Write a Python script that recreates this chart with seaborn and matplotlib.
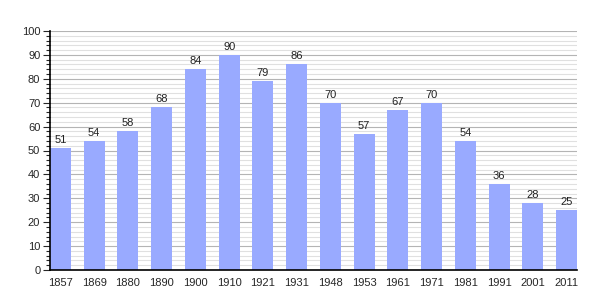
import matplotlib
matplotlib.use("Agg")
import matplotlib.pyplot as plt
import seaborn as sns
import pandas as pd
from matplotlib.ticker import MultipleLocator

years = ["1857", "1869", "1880", "1890", "1900", "1910", "1921", "1931",
         "1948", "1953", "1961", "1971", "1981", "1991", "2001", "2011"]
population = [51, 54, 58, 68, 84, 90, 79, 86, 70, 57, 67, 70, 54, 36, 28, 25]

sns.set_style("white")
plt.rcParams['font.family'] = ['Liberation Sans', 'DejaVu Sans']

df = pd.DataFrame({"year": years, "pop": population})

fig = plt.figure(figsize=(6.05, 3.0), dpi=100)
ax = fig.add_axes([50/605, 30/300, 527/605, 239/300])

bw = 0.62
sns.barplot(data=df, x="year", y="pop", color="#99aaff", saturation=1,
            width=bw, ax=ax, linewidth=0, edgecolor="none", zorder=2)

for i, v in enumerate(population):
    ax.text(i, v + 1.3, str(v), ha="center", va="bottom", fontsize=8, color="#222222")

ax.set_xlim(-bw/2, len(years) - 1 + bw/2)
ax.set_ylim(0, 100)
ax.yaxis.set_major_locator(MultipleLocator(10))
ax.yaxis.set_minor_locator(MultipleLocator(2))
ax.grid(which="major", axis="y", color="#b4b4b4", linewidth=0.8, zorder=0)
ax.grid(which="minor", axis="y", color="#e0e0e0", linewidth=0.8, zorder=0)
ax.set_axisbelow(True)

for s in ["top", "right"]:
    ax.spines[s].set_visible(False)
for s in ["left", "bottom"]:
    ax.spines[s].set_color("black")
    ax.spines[s].set_linewidth(1.2)
    ax.spines[s].set_zorder(5)

ax.tick_params(axis="y", which="major", left=True, length=5, width=0.8, labelsize=8, pad=2)
ax.tick_params(axis="y", which="minor", left=True, length=3, width=0.8)
ax.tick_params(axis="x", bottom=False, labelsize=8, pad=2)
ax.set_xlabel("")
ax.set_ylabel("")

fig.savefig("out.png", dpi=100, facecolor="white")
